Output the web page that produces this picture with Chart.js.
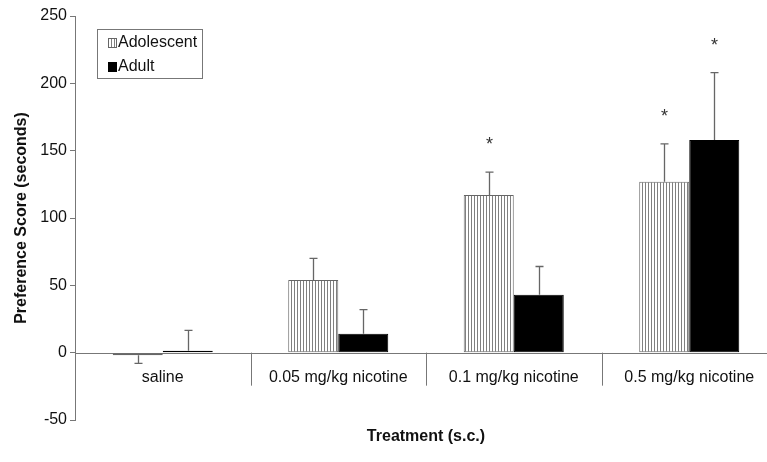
<!DOCTYPE html>
<html>
<head>
<meta charset="utf-8">
<script src="https://cdn.jsdelivr.net/npm/chart.js@4"></script>
<style>
  html, body { margin: 0; padding: 0; background: #fff; overflow: hidden; }
  #wrap { width: 780px; height: 462px; }
</style>
</head>
<body>
<div id="wrap"><canvas id="chart" width="780" height="462"></canvas></div>
<script>
/* ---- data ---- */
const categories = ['saline', '0.05 mg/kg nicotine', '0.1 mg/kg nicotine', '0.5 mg/kg nicotine'];
const adolescent = [-2, 54, 117, 127];
const adolescentErr = [6, 16, 17, 28];
const adult = [1.5, 14, 43, 158];
const adultErr = [15, 18, 21, 50];
const adolescentSig = [false, false, true, true];
const adultSig = [false, false, false, true];
const yTicks = { min: -50, max: 250, step: 50 };

const FONT = "'Liberation Sans', Arial, sans-serif";
const TEXT = '#111';
const AXIS = '#777';

/* vertical stripe fill for the adolescent bars */
function stripePattern(ctx) {
  const tile = document.createElement('canvas');
  tile.width = 3; tile.height = 4;
  const t = tile.getContext('2d');
  t.fillStyle = '#fff';
  t.fillRect(0, 0, 3, 4);
  t.fillStyle = '#808080';
  t.fillRect(0, 0, 1, 4);
  return ctx.createPattern(tile, 'repeat');
}

const canvas = document.getElementById('chart');
const ctx0 = canvas.getContext('2d');
const stripes = stripePattern(ctx0);

const errors = [adolescentErr, adultErr];
const sig = [adolescentSig, adultSig];

/* zero line, category separators and labels, error bars, asterisks, legend */
const decorations = {
  id: 'decorations',
  beforeDatasetsDraw(chart) {
    const { ctx, chartArea } = chart;
    const y0 = chart.scales.y.getPixelForValue(0);
    ctx.save();
    ctx.strokeStyle = AXIS;
    ctx.lineWidth = 1;
    ctx.beginPath();
    ctx.moveTo(chartArea.left, Math.round(y0) + 0.5);
    ctx.lineTo(chartArea.right, Math.round(y0) + 0.5);
    ctx.stroke();
    ctx.restore();
  },
  afterDatasetsDraw(chart) {
    const { ctx } = chart;
    const xs = chart.scales.x, ys = chart.scales.y;
    const y0 = ys.getPixelForValue(0);
    ctx.save();

    // separators between categories
    ctx.strokeStyle = AXIS;
    ctx.lineWidth = 1;
    for (let i = 0; i < categories.length - 1; i++) {
      const x = Math.round((xs.getPixelForValue(i) + xs.getPixelForValue(i + 1)) / 2) + 0.5;
      ctx.beginPath();
      ctx.moveTo(x, y0);
      ctx.lineTo(x, y0 + 33);
      ctx.stroke();
    }

    // category labels
    ctx.fillStyle = TEXT;
    ctx.font = '16px ' + FONT;
    ctx.textAlign = 'center';
    ctx.textBaseline = 'middle';
    categories.forEach((c, i) => ctx.fillText(c, xs.getPixelForValue(i), y0 + 25));

    // error bars (one-sided, away from zero) + significance stars
    chart.data.datasets.forEach((ds, di) => {
      const meta = chart.getDatasetMeta(di);
      meta.data.forEach((bar, i) => {
        const v = ds.data[i];
        const e = errors[di][i];
        const end = v >= 0 ? v + e : v - e;
        const yv = ys.getPixelForValue(v);
        const ye = ys.getPixelForValue(end);
        const x = Math.round(bar.x) + 0.5;
        ctx.strokeStyle = '#666';
        ctx.lineWidth = 1.3;
        ctx.beginPath();
        ctx.moveTo(x, yv);
        ctx.lineTo(x, ye);
        ctx.moveTo(x - 4, ye);
        ctx.lineTo(x + 4, ye);
        ctx.stroke();
        if (sig[di][i]) {
          ctx.fillStyle = '#333';
          ctx.font = '18px ' + FONT;
          ctx.textAlign = 'center';
          ctx.textBaseline = 'alphabetic';
          ctx.fillText('*', x, ye - 32 + 10);
        }
      });
    });

    // legend box
    ctx.strokeStyle = AXIS;
    ctx.lineWidth = 1;
    ctx.strokeRect(97.5, 29.5, 105, 49);
    ctx.fillStyle = stripes;
    ctx.fillRect(108, 38, 9, 10);
    ctx.strokeStyle = '#666';
    ctx.strokeRect(108.5, 38.5, 8, 9);
    ctx.fillStyle = '#000';
    ctx.fillRect(108, 62, 9, 10);
    ctx.fillStyle = TEXT;
    ctx.font = '16px ' + FONT;
    ctx.textAlign = 'left';
    ctx.textBaseline = 'middle';
    ctx.fillText('Adolescent', 118, 43);
    ctx.fillText('Adult', 118, 67);

    ctx.restore();
  }
};

new Chart(canvas, {
  type: 'bar',
  data: {
    labels: categories,
    datasets: [
      {
        label: 'Adolescent',
        data: adolescent,
        backgroundColor: stripes,
        borderColor: '#666',
        borderWidth: 1,
        borderSkipped: false,
        barPercentage: 1,
        categoryPercentage: 0.57,
      },
      {
        label: 'Adult',
        data: adult,
        backgroundColor: '#000',
        borderColor: '#000',
        borderWidth: 1,
        borderSkipped: false,
        barPercentage: 1,
        categoryPercentage: 0.57,
      }
    ]
  },
  options: {
    responsive: false,
    animation: false,
    layout: { padding: { top: 16, right: 3, left: 0, bottom: 0 } },
    plugins: {
      legend: { display: false },
      tooltip: { enabled: false }
    },
    scales: {
      x: {
        grid: { display: false },
        border: { display: false },
        ticks: { display: false },
        title: {
          display: true,
          text: 'Treatment (s.c.)',
          color: TEXT,
          font: { family: FONT, size: 16, weight: 'bold' },
          padding: { top: 0, bottom: 16 }
        },
        afterFit(scale) { scale.height = 42; }
      },
      y: {
        min: yTicks.min,
        max: yTicks.max,
        ticks: {
          stepSize: yTicks.step,
          color: TEXT,
          padding: 3,
          font: { family: FONT, size: 16 }
        },
        grid: {
          drawOnChartArea: false,
          tickLength: 5,
          color: AXIS
        },
        border: { display: true, color: AXIS, width: 1 },
        title: {
          display: true,
          text: 'Preference Score (seconds)',
          color: TEXT,
          font: { family: FONT, size: 16, weight: 'bold' },
          padding: { top: 12, bottom: 0 }
        },
        afterFit(scale) { scale.width = 75; }
      }
    }
  },
  plugins: [decorations]
});
</script>
</body>
</html>
